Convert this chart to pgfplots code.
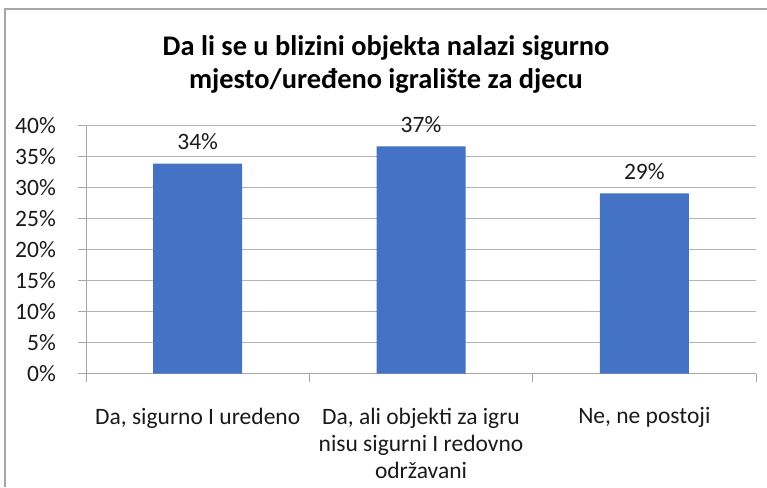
\documentclass[border=0pt]{standalone}
\usepackage{pgfplots}
\pgfplotsset{compat=1.18}
\usepackage{fontspec}
\setmainfont{Carlito}
\definecolor{barblue}{HTML}{4472C4}
\definecolor{axgray}{HTML}{A6A6A6}
\definecolor{gridgray}{HTML}{B4B4B4}
\definecolor{txt}{HTML}{1A1A1A}
\begin{document}
\begin{tikzpicture}[x=1pt,y=1pt]
\useasboundingbox (0,0) rectangle (767,487);
\draw[axgray, line width=1.3pt] (5,0) -- (5,478) -- (767,478);
\node[anchor=base, font=\fontsize{28.4}{33}\selectfont\bfseries, text=black, inner sep=0pt] at (386,431) {Da li se u blizini objekta nalazi sigurno};
\node[anchor=base, font=\fontsize{28.4}{33}\selectfont\bfseries, text=black, inner sep=0pt] at (386,398) {mjesto/uređeno igralište za djecu};
\begin{axis}[
  at={(86pt,113.5pt)}, anchor=south west,
  scale only axis, width=670pt, height=247.5pt,
  /pgf/number format/assume math mode=true,
  ybar, bar width=89pt,
  xmin=-0.5, xmax=2.5, ymin=0, ymax=40,
  axis lines=left, axis line style={-, axgray, line width=1pt},
  xtick={0,1,2},
  xticklabels={{Da, sigurno I uredeno},{Da, ali objekti za igru\\nisu sigurni I redovno\\održavani},{Ne, ne postoji}},
  major x tick style={draw=none},
  minor xtick={-0.5,0.5,1.5,2.5},
  minor tick length=8pt,
  minor x tick style={axgray, line width=1pt},
  ytick={0,5,10,15,20,25,30,35,40},
  yticklabels={0\%,5\%,10\%,15\%,20\%,25\%,30\%,35\%,40\%},
  major tick length=8pt,
  tick align=outside, tick pos=lower,
  y tick style={axgray, line width=1pt},
  ymajorgrids, grid style={gridgray, line width=1pt},
  xticklabel style={font=\fontsize{23.5}{27}\selectfont, text=txt, align=center, anchor=north, inner sep=0pt, yshift=-26pt},
  yticklabel style={font=\fontsize{23.5}{27}\selectfont, text=txt, anchor=east, inner sep=0pt, xshift=-22pt},
  nodes near coords={\pgfmathprintnumber[fixed,precision=0]{\pgfplotspointmeta}\%},
  nodes near coords style={font=\fontsize{23.5}{27}\selectfont, text=txt, anchor=south, inner sep=0pt, yshift=14pt},
]
\addplot[fill=barblue, draw=none] coordinates {(0,33.9) (1,36.7) (2,29.1)};
\end{axis}
\end{tikzpicture}
\end{document}
